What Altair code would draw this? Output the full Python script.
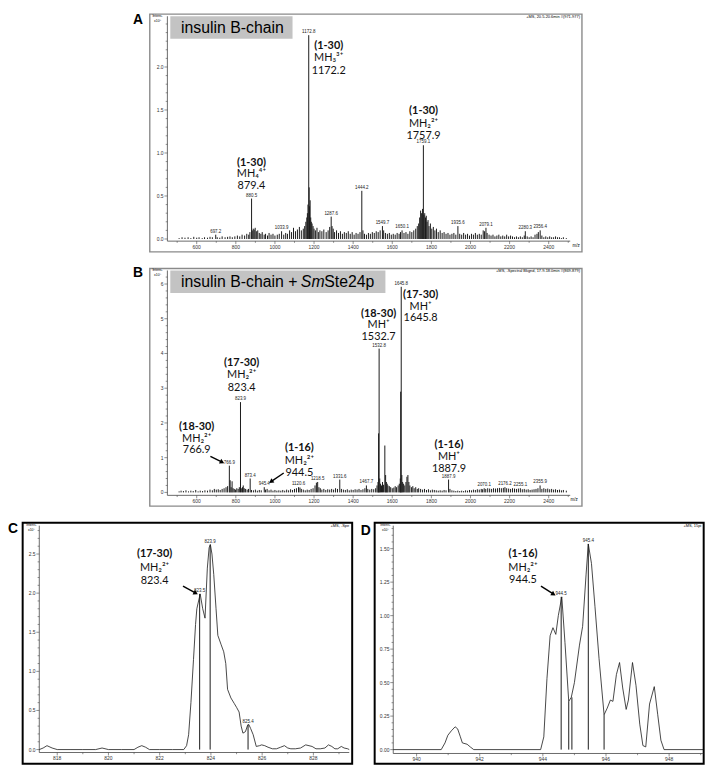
import altair as alt
import pandas as pd

S = 0.989
W, H = 704, 760
FA = "Liberation Sans"
FN = "Lato"
INK = "#1a1a1a"
AXC = "#444"

# ================= DATA =================
# Panel A: insulin B-chain, intensity x10^6
a_mz = [510, 525, 540, 556, 570, 585, 600, 612, 628, 640, 655, 668, 680, 697.2, 705, 718, 730, 745, 758, 770,
        782, 795, 808, 820, 832, 845, 856, 866, 872, 880.5, 884, 889, 894, 899, 905, 912, 920, 928, 935, 945,
        952, 962, 970, 980, 990, 1000, 1012, 1022, 1033.9, 1045, 1055, 1064, 1075, 1085, 1095, 1105, 1115, 1125, 1135, 1145,
        1152, 1158, 1163, 1166, 1169, 1172.8, 1175, 1177, 1180, 1183, 1186, 1190, 1195, 1200, 1207, 1215, 1222, 1230, 1240, 1250,
        1262, 1272, 1280, 1287.6, 1292, 1298, 1305, 1315, 1325, 1335, 1345, 1355, 1365, 1375, 1385, 1395, 1405, 1415, 1425, 1435,
        1444.2, 1450, 1458, 1468, 1478, 1488, 1498, 1508, 1518, 1528, 1538, 1549.7, 1556, 1565, 1575, 1585, 1595, 1605, 1615, 1625,
        1635, 1642, 1650.1, 1660, 1670, 1680, 1690, 1700, 1710, 1720, 1728, 1735, 1740, 1745, 1750, 1755, 1759.1, 1762, 1766, 1770,
        1774, 1778, 1783, 1788, 1795, 1802, 1810, 1818, 1826, 1835, 1845, 1855, 1865, 1875, 1885, 1895, 1905, 1915, 1925, 1935.6,
        1945, 1955, 1965, 1975, 1985, 1995, 2005, 2015, 2025, 2035, 2045, 2055, 2065, 2072, 2079.1, 2085, 2095, 2105, 2115, 2125,
        2135, 2145, 2155, 2165, 2175, 2185, 2195, 2205, 2215, 2225, 2235, 2245, 2255, 2265, 2275, 2280.3, 2290, 2300, 2310, 2320,
        2330, 2340, 2347, 2356.4, 2365, 2375, 2385, 2395, 2405, 2415, 2425, 2435, 2445, 2455, 2465, 2475, 2490]
a_int = [.01, .02, .015, .02, .01, .025, .015, .02, .01, .02, .015, .025, .02, .05, .02, .015, .03, .02, .025, .03,
         .02, .03, .04, .03, .05, .04, .06, .05, .08, .47, .10, .12, .11, .13, .09, .10, .07, .06, .08, .05,
         .06, .04, .07, .05, .06, .04, .05, .06, .09, .05, .07, .06, .10, .08, .13, .09, .11, .14, .10, .12,
         .15, .20, .25, .30, .40, 2.37, .60, .38, .45, .25, .20, .18, .15, .12, .10, .13, .08, .10, .09, .11,
         .08, .10, .14, .26, .15, .12, .08, .10, .07, .09, .06, .08, .07, .09, .06, .08, .05, .07, .06, .08,
         .56, .10, .06, .05, .07, .06, .08, .07, .09, .08, .10, .15, .10, .07, .06, .07, .05, .06, .05, .07,
         .06, .08, .10, .07, .08, .06, .09, .08, .10, .12, .15, .18, .25, .33, .30, .35, 1.09, .28, .30, .25,
         .27, .20, .22, .15, .18, .12, .14, .10, .12, .08, .10, .07, .08, .06, .07, .05, .06, .07, .05, .15,
         .06, .05, .07, .05, .06, .04, .06, .05, .07, .05, .06, .05, .10, .09, .13, .07, .05, .04, .05, .03,
         .04, .05, .03, .04, .03, .05, .03, .04, .03, .02, .03, .02, .03, .02, .04, .09, .03, .02, .03, .02,
         .05, .06, .08, .10, .04, .02, .03, .02, .03, .02, .02, .03, .02, .02, .01, .02, .01]
a_lab_mz = [697.2, 880.5, 1033.9, 1172.8, 1287.6, 1444.2, 1549.7, 1650.1, 1759.1, 1935.6, 2079.1, 2280.3, 2356.4]
a_lab_int = [0.05, 0.47, 0.09, 2.37, 0.26, 0.56, 0.15, 0.10, 1.09, 0.15, 0.13, 0.09, 0.10]
a_lab_txt = ["697.2", "880.5", "1033.9", "1172.8", "1287.6", "1444.2", "1549.7", "1650.1", "1759.1",
             "1935.6", "2079.1", "2280.3", "2356.4"]
a_ann_mz = [880, 1275, 1760]
a_ann_id = ["(1-30)", "(1-30)", "(1-30)"]
a_ann_id_y = [0.886, 2.24, 1.49]
a_ann_ion = ["MH\u2084\u2074\u207a", "MH\u2083\u00b3\u207a", "MH\u2082\u00b2\u207a"]
a_ann_ion_y = [0.75, 2.10, 1.34]
a_ann_mass = ["879.4", "1172.2", "1757.9"]
a_ann_mass_y = [0.614, 1.95, 1.20]

# Panel B: insulin B-chain + SmSte24p, intensity x10^5
b_mz = [510, 520, 532, 545, 558, 570, 582, 595, 607, 618, 630, 642, 655, 668, 680, 690, 700, 710, 720, 730,
        740, 750, 758, 766.9, 771, 776, 781, 786, 792, 798, 805, 812, 818, 823.9, 828, 834, 838, 843, 850, 858,
        865, 873.4, 880, 890, 900, 910, 920, 930, 945.4, 952, 960, 970, 980, 990, 1000, 1010, 1020, 1030, 1040, 1050,
        1060, 1070, 1080, 1090, 1100, 1110, 1120.6, 1128, 1135, 1145, 1155, 1165, 1175, 1185, 1195, 1205, 1212, 1218.5, 1225, 1232,
        1240, 1250, 1260, 1270, 1280, 1290, 1300, 1310, 1320, 1331.6, 1340, 1350, 1360, 1370, 1380, 1390, 1400, 1410, 1420, 1430,
        1440, 1450, 1460, 1467.7, 1475, 1485, 1495, 1505, 1515, 1522, 1527, 1530, 1532.8, 1536, 1540, 1545, 1550, 1555, 1562, 1566,
        1570, 1574, 1578, 1585, 1592, 1600, 1608, 1615, 1622, 1630, 1636, 1641, 1643, 1645.8, 1649, 1653, 1658, 1664, 1670, 1675,
        1680, 1685, 1690, 1698, 1705, 1712, 1720, 1728, 1735, 1745, 1755, 1765, 1775, 1785, 1795, 1805, 1815, 1825, 1835, 1845,
        1855, 1865, 1875, 1887.9, 1895, 1905, 1915, 1925, 1935, 1945, 1955, 1965, 1975, 1985, 1995, 2005, 2015, 2025, 2035, 2045,
        2055, 2062, 2070.1, 2078, 2088, 2098, 2108, 2118, 2128, 2138, 2148, 2158, 2168, 2176.2, 2185, 2195, 2205, 2215, 2225, 2235,
        2245, 2255.1, 2265, 2275, 2285, 2295, 2305, 2315, 2325, 2335, 2345, 2355.9, 2365, 2375, 2385, 2395, 2405, 2415, 2425, 2435,
        2445, 2455, 2465, 2475, 2490]
b_int = [.03, .05, .04, .06, .03, .05, .04, .07, .03, .05, .04, .06, .05, .08, .06, .10, .08, .09, .07, .10,
         .12, .15, .18, .77, .35, .15, .32, .12, .10, .08, .12, .10, .15, 2.60, .12, .15, .20, .12, .10, .08,
         .10, .40, .07, .06, .08, .05, .07, .06, .15, .08, .10, .06, .08, .05, .07, .05, .06, .05, .07, .05,
         .08, .06, .09, .07, .10, .12, .15, .14, .10, .08, .06, .08, .07, .10, .12, .20, .28, .30, .15, .12,
         .08, .10, .07, .09, .08, .10, .08, .12, .10, .37, .10, .08, .07, .09, .06, .08, .07, .09, .08, .10,
         .07, .09, .12, .20, .10, .08, .10, .09, .12, .20, .30, 1.70, 4.14, .40, .25, .20, .30, .22, 1.35, .50,
         .30, .25, .20, .18, .15, .12, .14, .18, .15, .20, .25, .40, 2.90, 5.92, .50, .30, .25, .20, .30, .45,
         .50, .30, .20, .15, .18, .12, .15, .10, .12, .10, .08, .10, .07, .09, .06, .08, .07, .06, .05, .06,
         .05, .07, .06, .37, .10, .06, .05, .04, .05, .04, .05, .04, .06, .05, .07, .06, .08, .07, .09, .08,
         .10, .09, .12, .10, .12, .11, .10, .12, .11, .12, .13, .12, .13, .15, .12, .11, .10, .12, .11, .10,
         .11, .12, .09, .10, .08, .09, .07, .08, .09, .10, .12, .20, .10, .12, .10, .11, .09, .10, .08, .09,
         .07, .08, .06, .07, .05]
b_lab_mz = [766.9, 823.9, 873.4, 945.4, 1120.6, 1218.5, 1331.6, 1467.7, 1532.8, 1645.8, 1887.9, 2070.1, 2176.2, 2255.1, 2355.9]
b_lab_int = [0.77, 2.60, 0.40, 0.15, 0.15, 0.30, 0.37, 0.20, 4.14, 5.92, 0.37, 0.12, 0.15, 0.12, 0.20]
b_lab_txt = ["766.9", "823.9", "873.4", "945.4", "1120.6", "1218.5", "1331.6", "1467.7", "1532.8", "1645.8",
             "1887.9", "2070.1", "2176.2", "2255.1", "2355.9"]
b_ann_mz = [600, 830, 1125, 1530, 1745, 1890]
b_ann_id = ["(18-30)", "(17-30)", "(1-16)", "(18-30)", "(17-30)", "(1-16)"]
b_ann_id_y = [1.89, 3.72, 1.27, 5.15, 5.69, 1.37]
b_ann_ion = ["MH\u2082\u00b2\u207a", "MH\u2082\u00b2\u207a", "MH\u2082\u00b2\u207a", "MH\u207a", "MH\u207a", "MH\u207a"]
b_ann_ion_y = [1.55, 3.38, 0.90, 4.82, 5.35, 1.02]
b_ann_mass = ["766.9", "823.4", "944.5", "1532.7", "1645.8", "1887.9"]
b_ann_mass_y = [1.21, 3.01, 0.56, 4.48, 5.01, 0.66]
b_arr_x1 = [670, 1045]
b_arr_y1 = [1.04, 0.56]
b_arr_x2 = [730, 980]
b_arr_y2 = [0.87, 0.31]
b_arr_ang = [27, 145]

# Panel C: zoom on (17-30) MH2 2+, intensity x10^5
c_prof_mz = [817.3, 817.45, 817.6, 817.8, 818.0, 818.5, 819.0, 819.5, 819.75, 820.0, 820.5, 821.0, 821.15, 821.3,
             821.45, 821.6, 822.0, 822.5, 822.94, 823.05, 823.13, 823.22, 823.32, 823.4, 823.45, 823.58, 823.68,
             823.77, 823.86, 823.93, 823.98, 824.04, 824.11, 824.2, 824.27, 824.4, 824.5, 824.58, 824.65, 824.78,
             824.91, 825.0, 825.1, 825.18, 825.25, 825.35, 825.43, 825.48, 825.55, 825.65, 825.77, 825.9, 825.98,
             826.1, 826.23, 826.4, 826.56, 826.72, 826.87, 827.0, 827.12, 827.3, 827.5, 827.7, 827.95, 828.1,
             828.27, 828.45, 828.59, 828.72, 828.84, 828.95, 829.09, 829.2, 829.34, 829.4]
c_prof_int = [0.0, 0.02, 0.05, 0.02, 0.0, 0.0, 0.0, 0.0, 0.02, 0.0, 0.0, 0.0, 0.03, 0.05,
              0.03, 0.0, 0.0, 0.0, 0.0, 0.05, 0.19, 0.6, 1.15, 1.6, 1.8, 1.99, 1.8,
              1.68, 2.32, 2.58, 2.62, 2.5, 2.24, 1.8, 1.46, 1.34, 1.25, 1.1, 0.77, 0.66,
              0.59, 0.54, 0.48, 0.3, 0.21, 0.23, 0.31, 0.32, 0.27, 0.19, 0.04, 0.05, 0.06,
              0.05, 0.03, 0.01, 0.01, 0.03, 0.05, 0.02, 0.01, 0.01, 0.02, 0.06, 0.04, 0.01,
              0.01, 0.02, 0.06, 0.04, 0.01, 0.01, 0.04, 0.02, 0.01, 0.0]
c_stk_mz = [823.56, 823.97, 825.45]
c_stk_int = [1.99, 2.62, 0.32]
c_lab_txt = ["823.5", "823.9", "825.4"]
c_ann_mz = [821.8]
c_ann_id = ["(17-30)"]
c_ann_id_y = [2.50]
c_ann_ion = ["MH\u2082\u00b2\u207a"]
c_ann_ion_y = [2.325]
c_ann_mass = ["823.4"]
c_ann_mass_y = [2.16]
c_arr_x1 = [822.91]
c_arr_y1 = [2.09]
c_arr_x2 = [823.41]
c_arr_y2 = [2.00]
c_arr_ang = [28]

# Panel D: zoom on (1-16) MH2 2+, intensity x10^5
d_prof_mz = [939.26, 940.78, 940.9, 940.99, 941.1, 941.22, 941.3, 941.38, 941.45, 941.6, 941.7, 941.81, 943.93,
             944.03, 944.13, 944.23, 944.32, 944.41, 944.49, 944.6, 944.7, 944.82, 944.9, 945.0, 945.16, 945.26,
             945.37, 945.44, 945.54, 945.65, 945.78, 945.94, 946.04, 946.14, 946.22, 946.33, 946.43, 946.53,
             946.64, 946.71, 946.84, 946.95, 947.07, 947.17, 947.26, 947.38, 947.53, 947.64, 947.74, 947.84, 949.08]
d_prof_int = [0.0, 0.0, 0.05, 0.107, 0.14, 0.17, 0.155, 0.1, 0.05, 0.04, 0.02, 0.0, 0.0,
              0.095, 0.53, 0.85, 0.91, 0.86, 1.0, 1.14, 0.8, 0.36, 0.39, 0.5, 0.78, 0.92,
              1.31, 1.535, 1.39, 1.07, 0.68, 0.26, 0.31, 0.37, 0.36, 0.56, 0.65, 0.46,
              0.30, 0.37, 0.65, 0.48, 0.19, 0.03, 0.02, 0.34, 0.47, 0.26, 0.07, 0.0, 0.0]
d_stk_mz = [944.58, 944.82, 944.92, 945.44, 945.94]
d_stk_int = [1.14, 0.36, 0.39, 1.535, 0.26]
d_lab_mz = [944.58, 945.44]
d_lab_int = [1.14, 1.535]
d_lab_txt = ["944.5", "945.4"]
d_ann_mz = [943.37]
d_ann_id = ["(1-16)"]
d_ann_id_y = [1.46]
d_ann_ion = ["MH\u2082\u00b2\u207a"]
d_ann_ion_y = [1.358]
d_ann_mass = ["944.5"]
d_ann_mass_y = [1.263]
d_arr_x1 = [943.94]
d_arr_y1 = [1.22]
d_arr_x2 = [944.34]
d_arr_y2 = [1.16]
d_arr_ang = [32]

# axis ticks and tick labels
ab_x_major = [600, 800, 1000, 1200, 1400, 1600, 1800, 2000, 2200, 2400]
ab_x_labels = ["600", "800", "1000", "1200", "1400", "1600", "1800", "2000", "2200", "2400"]
ab_x_minor = [500, 700, 900, 1100, 1300, 1500, 1700, 1900, 2100, 2300, 2500]
a_y_major = [0.0, 0.5, 1.0, 1.5, 2.0]
a_y_labels = ["0.0", "0.5", "1.0", "1.5", "2.0"]
a_y_minor = [0.1, 0.2, 0.3, 0.4, 0.6, 0.7, 0.8, 0.9, 1.1, 1.2, 1.3, 1.4, 1.6, 1.7, 1.8, 1.9, 2.1, 2.2, 2.3, 2.4, 2.5]
b_y_major = [0, 1, 2, 3, 4, 5, 6]
b_y_labels = ["0", "1", "2", "3", "4", "5", "6"]
b_y_minor = [0.2, 0.4, 0.6, 0.8, 1.2, 1.4, 1.6, 1.8, 2.2, 2.4, 2.6, 2.8, 3.2, 3.4, 3.6, 3.8,
             4.2, 4.4, 4.6, 4.8, 5.2, 5.4, 5.6, 5.8, 6.2]
c_x_major = [818, 820, 822, 824, 826, 828]
c_x_labels = ["818", "820", "822", "824", "826", "828"]
c_x_minor = [819, 821, 823, 825, 827, 829]
c_y_major = [0.0, 0.5, 1.0, 1.5, 2.0, 2.5]
c_y_labels = ["0.0", "0.5", "1.0", "1.5", "2.0", "2.5"]
c_y_minor = [0.1, 0.2, 0.3, 0.4, 0.6, 0.7, 0.8, 0.9, 1.1, 1.2, 1.3, 1.4, 1.6, 1.7, 1.8, 1.9,
             2.1, 2.2, 2.3, 2.4, 2.6, 2.7, 2.8]
d_x_major = [940, 942, 944, 946, 948]
d_x_labels = ["940", "942", "944", "946", "948"]
d_x_minor = [941, 943, 945, 947, 949]
d_y_major = [0.0, 0.25, 0.5, 0.75, 1.0, 1.25, 1.5]
d_y_labels = ["0.00", "0.25", "0.50", "0.75", "1.00", "1.25", "1.50"]
d_y_minor = [0.05, 0.1, 0.15, 0.2, 0.3, 0.35, 0.4, 0.45, 0.55, 0.6, 0.65, 0.7, 0.8, 0.85, 0.9, 0.95,
             1.05, 1.1, 1.15, 1.2, 1.3, 1.35, 1.4, 1.45, 1.55, 1.6, 1.65]


# ================= HELPERS =================
def P(v):
    return round(v * S, 2)


ONE = pd.DataFrame({"k": [0]})


def ptext(x, y, s, size, align="left", weight="normal", style="normal", font=FA, color="black",
          baseline="middle"):
    return alt.Chart(ONE).mark_text(text=s, fontSize=size, align=align, baseline=baseline,
                                    fontWeight=weight, fontStyle=style, font=font, color=color).encode(
        x=alt.value(P(x)), y=alt.value(P(y)))


def prect(x1, y1, x2, y2, **kw):
    return alt.Chart(ONE).mark_rect(**kw).encode(
        x=alt.value(P(x1)), x2=alt.value(P(x2)), y=alt.value(P(y1)), y2=alt.value(P(y2)))


def panel(xs, ys, xpix, ypix, xmaj, xlab, xmin, ymaj, ylab, ymin,
          stk_mz, stk_int, lab_mz, lab_int, lab_txt,
          ann_mz, ann_id, ann_id_y, ann_ion, ann_ion_y, ann_mass, ann_mass_y,
          prof=None, arrows=None, stick_w=0.8, lab_size=4.5):
    X = lambda: alt.X("mz:Q", scale=xs, axis=None)
    Y = lambda: alt.Y("it:Q", scale=ys, axis=None)
    x0, x1 = xpix      # left / right end of the x axis line
    ybot, ytop = ypix  # y of the x axis line / top of the y axis line
    layers = []
    # axis lines
    layers.append(alt.Chart(ONE).mark_rule(color=AXC, strokeWidth=0.8).encode(
        x=alt.value(P(x0)), x2=alt.value(P(x1)), y=alt.value(P(ybot))))
    layers.append(alt.Chart(ONE).mark_rule(color=AXC, strokeWidth=0.8).encode(
        x=alt.value(P(x0)), y=alt.value(P(ytop)), y2=alt.value(P(ybot))))
    # ticks (major and minor)
    for vals, ln in ((xmaj, 3.0), (xmin, 1.7)):
        tdf = pd.DataFrame({"mz": vals})
        layers.append(alt.Chart(tdf).mark_rule(color=AXC, strokeWidth=0.6).encode(
            x=X(), y=alt.value(P(ybot)), y2=alt.value(P(ybot) + ln)))
    for vals, ln in ((ymaj, 3.0), (ymin, 1.7)):
        tdf = pd.DataFrame({"it": vals})
        layers.append(alt.Chart(tdf).mark_rule(color=AXC, strokeWidth=0.6).encode(
            y=Y(), x=alt.value(P(x0)), x2=alt.value(P(x0) - ln)))
    # tick labels
    xl = pd.DataFrame({"mz": xmaj, "t": xlab})
    layers.append(alt.Chart(xl).mark_text(fontSize=5, font=FA, color="#333", baseline="top").encode(
        x=X(), y=alt.value(P(ybot) + 3.6), text="t:N"))
    yl = pd.DataFrame({"it": ymaj, "t": ylab})
    layers.append(alt.Chart(yl).mark_text(fontSize=5, font=FA, color="#333", align="right",
                                          baseline="middle").encode(
        y=Y(), x=alt.value(P(x0) - 3.8), text="t:N"))
    # spectrum
    sdf = pd.DataFrame({"mz": stk_mz, "it": stk_int, "base": [0.0] * len(stk_mz)})
    layers.append(alt.Chart(sdf).mark_rule(color=INK, strokeWidth=stick_w).encode(
        x=X(), y=Y(), y2="base:Q"))
    if prof is not None:
        pdf = pd.DataFrame({"mz": prof[0], "it": prof[1]})
        layers.append(alt.Chart(pdf).mark_line(color=INK, strokeWidth=0.8).encode(x=X(), y=Y()))
    ldf = pd.DataFrame({"mz": lab_mz, "it": lab_int, "t": lab_txt})
    layers.append(alt.Chart(ldf).mark_text(fontSize=lab_size, font=FA, color="#222", baseline="bottom",
                                           dy=-1).encode(x=X(), y=Y(), text="t:N"))
    for txt, yy, weight in ((ann_id, ann_id_y, "bold"), (ann_ion, ann_ion_y, "normal"),
                            (ann_mass, ann_mass_y, "normal")):
        adf = pd.DataFrame({"mz": ann_mz, "it": yy, "t": txt})
        layers.append(alt.Chart(adf).mark_text(fontSize=11, font=FN, fontWeight=weight, color="#111",
                                               baseline="middle", align="center").encode(
            x=X(), y=Y(), text="t:N"))
    if arrows is not None:
        ax1, ay1, ax2, ay2, ang = arrows
        rdf = pd.DataFrame({"mz": ax1, "it": ay1, "mz2": ax2, "it2": ay2})
        layers.append(alt.Chart(rdf).mark_rule(color="black", strokeWidth=1.4).encode(
            x=X(), y=Y(), x2="mz2:Q", y2="it2:Q"))
        hdf = pd.DataFrame({"mz": ax2, "it": ay2, "ang": ang})
        layers.append(alt.Chart(hdf).mark_point(shape="triangle-right", filled=True, color="black",
                                                size=28, opacity=1).encode(
            x=X(), y=Y(), angle=alt.Angle("ang:Q", scale=None)))
    return alt.layer(*layers)


# ================= SCALES =================
xsA = alt.Scale(domain=[450, 2510], range=[P(163), P(575)], nice=False, zero=False)
ysA = alt.Scale(domain=[-0.025, 2.59], range=[P(233), P(3)], nice=False, zero=False)
xsB = alt.Scale(domain=[450, 2510], range=[P(163), P(575)], nice=False, zero=False)
ysB = alt.Scale(domain=[-0.085, 6.39], range=[P(493), P(263)], nice=False, zero=False)
xsC = alt.Scale(domain=[817.3, 829.4], range=[P(32), P(349)], nice=False, zero=False)
ysC = alt.Scale(domain=[-0.0375, 2.8625], range=[P(756), P(524)], nice=False, zero=False)
xsD = alt.Scale(domain=[939.26, 949.08], range=[P(394), P(711)], nice=False, zero=False)
ysD = alt.Scale(domain=[-0.029, 1.6715], range=[P(757), P(524)], nice=False, zero=False)

panelA = panel(xsA, ysA, (163, 575), (233, 3), ab_x_major, ab_x_labels, ab_x_minor,
               a_y_major, a_y_labels, a_y_minor,
               a_mz, a_int, a_lab_mz, a_lab_int, a_lab_txt,
               a_ann_mz, a_ann_id, a_ann_id_y, a_ann_ion, a_ann_ion_y, a_ann_mass, a_ann_mass_y,
               stick_w=1.0)
panelB = panel(xsB, ysB, (163, 575), (493, 263), ab_x_major, ab_x_labels, ab_x_minor,
               b_y_major, b_y_labels, b_y_minor,
               b_mz, b_int, b_lab_mz, b_lab_int, b_lab_txt,
               b_ann_mz, b_ann_id, b_ann_id_y, b_ann_ion, b_ann_ion_y, b_ann_mass, b_ann_mass_y,
               arrows=(b_arr_x1, b_arr_y1, b_arr_x2, b_arr_y2, b_arr_ang), stick_w=1.0)
panelC = panel(xsC, ysC, (32, 349), (756, 524), c_x_major, c_x_labels, c_x_minor,
               c_y_major, c_y_labels, c_y_minor,
               c_stk_mz, c_stk_int, c_stk_mz, c_stk_int, c_lab_txt,
               c_ann_mz, c_ann_id, c_ann_id_y, c_ann_ion, c_ann_ion_y, c_ann_mass, c_ann_mass_y,
               prof=(c_prof_mz, c_prof_int), arrows=(c_arr_x1, c_arr_y1, c_arr_x2, c_arr_y2, c_arr_ang),
               stick_w=1.0)
panelD = panel(xsD, ysD, (394, 711), (757, 524), d_x_major, d_x_labels, d_x_minor,
               d_y_major, d_y_labels, d_y_minor,
               d_stk_mz, d_stk_int, d_lab_mz, d_lab_int, d_lab_txt,
               d_ann_mz, d_ann_id, d_ann_id_y, d_ann_ion, d_ann_ion_y, d_ann_mass, d_ann_mass_y,
               prof=(d_prof_mz, d_prof_int), arrows=(d_arr_x1, d_arr_y1, d_arr_x2, d_arr_y2, d_arr_ang),
               stick_w=1.0)

# ================= DECORATIONS =================
decor = [
    prect(145, 0.8, 587, 244, fillOpacity=0, stroke="#8a8a8a", strokeWidth=1.4),
    prect(145, 261, 587, 504, fillOpacity=0, stroke="#8a8a8a", strokeWidth=1.4),
    prect(15, 521, 352, 767.5, fillOpacity=0, stroke="black", strokeWidth=2),
    prect(375, 521, 711.5, 767.5, fillOpacity=0, stroke="black", strokeWidth=2),
    prect(166, 3, 291, 26, fill="#c3c3c3"),
    prect(166, 263, 386, 286, fill="#c3c3c3"),
    ptext(177, 15, "insulin B-chain", 16),
    ptext(177, 275, "insulin B-chain +", 16),
    ptext(299.5, 275, "Sm", 16, style="italic"),
    ptext(323.5, 275, "Ste24p", 16),
    ptext(133, 6.5, "A", 14, align="center", weight="bold"),
    ptext(133, 266, "B", 14, align="center", weight="bold"),
    ptext(0, 527, "C", 14, weight="bold"),
    ptext(366, 529, "D", 14, align="center", weight="bold"),
    ptext(153, 3, "Intens.", 3.5, align="center"),
    ptext(153, 8, "x10\u2076", 3.5, align="center"),
    ptext(153, 263, "Intens.", 3.5, align="center"),
    ptext(153, 268, "x10\u2075", 3.5, align="center"),
    ptext(24, 523.5, "Intens.", 3.5, align="center"),
    ptext(24, 528.5, "x10\u2075", 3.5, align="center"),
    ptext(386, 523.5, "Intens.", 3.5, align="center"),
    ptext(386, 528.5, "x10\u2075", 3.5, align="center"),
    ptext(585, 4, "+MS, 20.5-20.6min #(971-977)", 4, align="right"),
    ptext(585, 263.5, "+MS, -Spectral Bkgnd, 17.9-18.0min #(869-879)", 4, align="right"),
    ptext(349, 524, "+MS, -Spe", 4, align="right"),
    ptext(709, 524, "+MS, 15pi", 4, align="right"),
    ptext(581, 237.5, "m/z", 4.5, align="center"),
    ptext(579, 497.5, "m/z", 4.5, align="center"),
]

chart = alt.layer(*decor, panelA, panelB, panelC, panelD).resolve_scale(
    x="independent", y="independent").properties(
    width=W, height=H, padding=0).configure_view(strokeWidth=0)

chart.save("out.html", embed_options={"renderer": "svg", "actions": False})
